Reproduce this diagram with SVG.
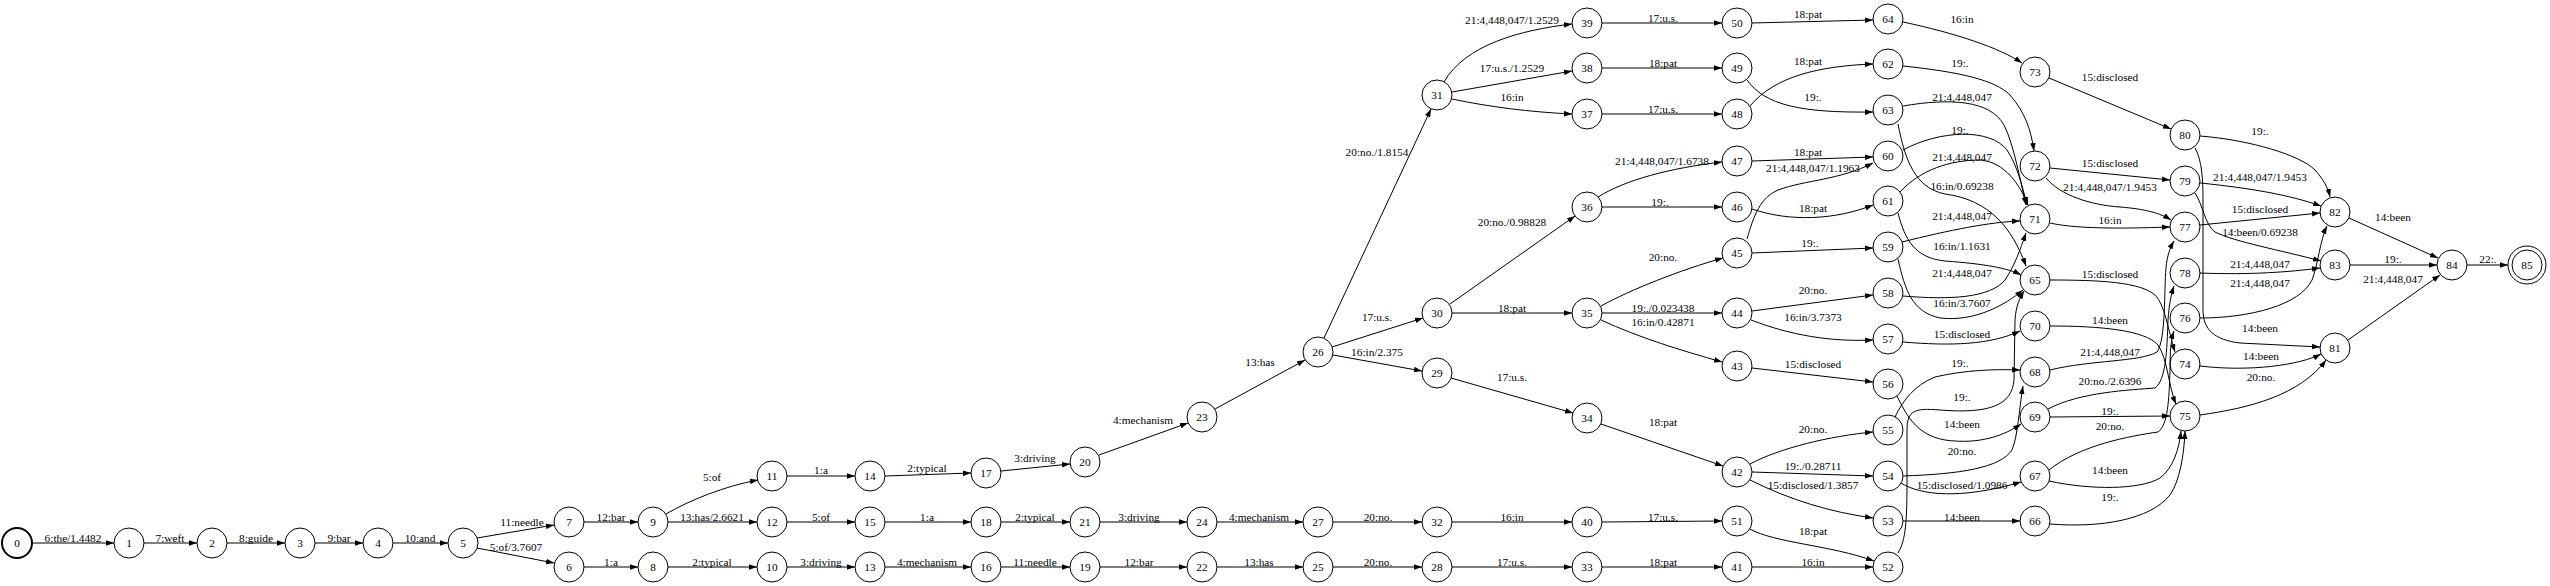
<svg xmlns="http://www.w3.org/2000/svg" width="2550" height="586" viewBox="0 0 2550 586">
<defs>
<marker id="ah" viewBox="0 0 10 7" refX="10" refY="3.5" markerWidth="8" markerHeight="6" markerUnits="userSpaceOnUse" orient="auto"><path d="M0,0L10,3.5L0,7z" fill="#000"/></marker>
<style>
.node circle{fill:none;stroke:#000;stroke-width:1}
.edge path{fill:none;stroke:#000;stroke-width:1;marker-end:url(#ah)}
text{font-family:"Liberation Serif","Times New Roman",serif;font-size:11.3px;text-anchor:middle;fill:#000}
</style>
</defs>
<rect width="2550" height="586" fill="#fff"/>
<g id="edges">
<g class="edge"><path d="M32,543 L114,543"/><text x="73" y="542">6:the/1.4482</text></g>
<g class="edge"><path d="M144,543 L197,543"/><text x="170" y="542">7:weft</text></g>
<g class="edge"><path d="M227,543 L285,543"/><text x="256" y="542">8:guide</text></g>
<g class="edge"><path d="M315,543 L363,543"/><text x="339" y="542">9:bar</text></g>
<g class="edge"><path d="M393,543 L448,543"/><text x="420" y="542">10:and</text></g>
<g class="edge"><path d="M477,538 L554,525"/><text x="522" y="526">11:needle</text></g>
<g class="edge"><path d="M477,548 L554,563"/><text x="516" y="551">5:of/3.7607</text></g>
<g class="edge"><path d="M584,522 L638,522"/><text x="611" y="521">12:bar</text></g>
<g class="edge"><path d="M584,567 L638,567"/><text x="611" y="566">1:a</text></g>
<g class="edge"><path d="M666,514 C690,500 725,486 758,480"/><text x="712" y="481">5:of</text></g>
<g class="edge"><path d="M668,522 L757,522"/><text x="712" y="521">13:has/2.6621</text></g>
<g class="edge"><path d="M668,567 L757,567"/><text x="712" y="566">2:typical</text></g>
<g class="edge"><path d="M787,476 L855,476"/><text x="821" y="474">1:a</text></g>
<g class="edge"><path d="M787,522 L855,522"/><text x="821" y="521">5:of</text></g>
<g class="edge"><path d="M787,567 L855,567"/><text x="821" y="566">3:driving</text></g>
<g class="edge"><path d="M885,476 L971,473"/><text x="927" y="472">2:typical</text></g>
<g class="edge"><path d="M885,522 L971,522"/><text x="927" y="521">1:a</text></g>
<g class="edge"><path d="M885,567 L971,567"/><text x="927" y="566">4:mechanism</text></g>
<g class="edge"><path d="M1001,471 L1070,464"/><text x="1035" y="462">3:driving</text></g>
<g class="edge"><path d="M1001,522 L1070,522"/><text x="1035" y="521">2:typical</text></g>
<g class="edge"><path d="M1001,567 L1070,567"/><text x="1035" y="566">11:needle</text></g>
<g class="edge"><path d="M1099,455 L1188,423"/><text x="1143" y="424">4:mechanism</text></g>
<g class="edge"><path d="M1100,522 L1187,522"/><text x="1139" y="521">3:driving</text></g>
<g class="edge"><path d="M1100,567 L1187,567"/><text x="1139" y="566">12:bar</text></g>
<g class="edge"><path d="M1215,409 L1305,360"/><text x="1260" y="366">13:has</text></g>
<g class="edge"><path d="M1217,522 L1303,522"/><text x="1259" y="521">4:mechanism</text></g>
<g class="edge"><path d="M1217,567 L1303,567"/><text x="1259" y="566">13:has</text></g>
<g class="edge"><path d="M1324,338 L1431,109"/><text x="1377" y="156">20:no./1.8154</text></g>
<g class="edge"><path d="M1332,347 L1423,318"/><text x="1377" y="321">17:u.s.</text></g>
<g class="edge"><path d="M1333,355 L1422,371"/><text x="1377" y="356">16:in/2.375</text></g>
<g class="edge"><path d="M1333,522 L1422,522"/><text x="1378" y="521">20:no.</text></g>
<g class="edge"><path d="M1333,567 L1422,567"/><text x="1378" y="566">20:no.</text></g>
<g class="edge"><path d="M1444,82 C1465,45 1520,30 1572,24"/><text x="1512" y="24">21:4,448,047/1.2529</text></g>
<g class="edge"><path d="M1452,92 L1572,71"/><text x="1512" y="72">17:u.s./1.2529</text></g>
<g class="edge"><path d="M1452,99 C1490,107 1530,112 1572,114"/><text x="1512" y="101">16:in</text></g>
<g class="edge"><path d="M1450,304 L1575,216"/><text x="1512" y="226">20:no./0.98828</text></g>
<g class="edge"><path d="M1452,313 L1572,313"/><text x="1512" y="312">18:pat</text></g>
<g class="edge"><path d="M1451,378 L1573,413"/><text x="1512" y="381">17:u.s.</text></g>
<g class="edge"><path d="M1452,522 L1572,522"/><text x="1512" y="521">16:in</text></g>
<g class="edge"><path d="M1452,567 L1572,567"/><text x="1512" y="566">17:u.s.</text></g>
<g class="edge"><path d="M1602,23 L1722,23"/><text x="1663" y="22">17:u.s.</text></g>
<g class="edge"><path d="M1602,68 L1722,68"/><text x="1663" y="67">18:pat</text></g>
<g class="edge"><path d="M1602,114 L1722,114"/><text x="1663" y="113">17:u.s.</text></g>
<g class="edge"><path d="M1598,197 C1625,180 1670,168 1722,162"/><text x="1662" y="165">21:4,448,047/1.6738</text></g>
<g class="edge"><path d="M1602,207 L1722,207"/><text x="1660" y="206">19:.</text></g>
<g class="edge"><path d="M1601,306 C1630,290 1680,270 1723,258"/><text x="1663" y="261">20:no.</text></g>
<g class="edge"><path d="M1602,313 L1722,313"/><text x="1663" y="312">19:./0.023438</text></g>
<g class="edge"><path d="M1601,320 C1640,338 1680,350 1722,362"/><text x="1663" y="326">16:in/0.42871</text></g>
<g class="edge"><path d="M1601,424 L1723,466"/><text x="1663" y="426">18:pat</text></g>
<g class="edge"><path d="M1602,522 L1722,521"/><text x="1663" y="521">17:u.s.</text></g>
<g class="edge"><path d="M1602,567 L1722,567"/><text x="1663" y="566">18:pat</text></g>
<g class="edge"><path d="M1752,23 L1873,20"/><text x="1808" y="18">18:pat</text></g>
<g class="edge"><path d="M1747,80 C1765,105 1800,113 1873,112"/><text x="1813" y="101">19:.</text></g>
<g class="edge"><path d="M1750,106 C1775,76 1820,66 1873,64"/><text x="1808" y="65">18:pat</text></g>
<g class="edge"><path d="M1752,161 L1873,157"/><text x="1808" y="156">18:pat</text></g>
<g class="edge"><path d="M1747,239 C1754,215 1760,198 1778,190 C1805,180 1840,180 1873,163"/><text x="1813" y="172">21:4,448,047/1.1963</text></g>
<g class="edge"><path d="M1752,209 C1790,222 1835,220 1873,205"/><text x="1813" y="212">18:pat</text></g>
<g class="edge"><path d="M1752,253 L1873,248"/><text x="1810" y="247">19:.</text></g>
<g class="edge"><path d="M1752,311 L1873,295"/><text x="1813" y="294">20:no.</text></g>
<g class="edge"><path d="M1751,320 C1790,335 1830,342 1873,340"/><text x="1813" y="321">16:in/3.7373</text></g>
<g class="edge"><path d="M1752,368 L1873,382"/><text x="1813" y="368">15:disclosed</text></g>
<g class="edge"><path d="M1750,464 C1780,448 1830,436 1873,432"/><text x="1813" y="433">20:no.</text></g>
<g class="edge"><path d="M1752,472 L1873,476"/><text x="1813" y="470">19:./0.28711</text></g>
<g class="edge"><path d="M1750,480 C1790,500 1830,512 1873,518"/><text x="1813" y="489">15:disclosed/1.3857</text></g>
<g class="edge"><path d="M1750,529 C1775,543 1830,545 1874,561"/><text x="1813" y="535">18:pat</text></g>
<g class="edge"><path d="M1752,567 L1873,567"/><text x="1813" y="566">16:in</text></g>
<g class="edge"><path d="M1903,22 C1955,33 2000,48 2022,63"/><text x="1962" y="23">16:in</text></g>
<g class="edge"><path d="M1903,66 C1960,72 1995,80 2010,95 C2025,112 2031,130 2034,151"/><text x="1960" y="67">19:.</text></g>
<g class="edge"><path d="M1903,106 C1950,98 1990,100 2004,125 C2014,145 2020,180 2026,205"/><text x="1962" y="101">21:4,448,047</text></g>
<g class="edge"><path d="M1903,150 C1940,130 1990,128 2007,150 C2017,165 2022,185 2027,205"/><text x="1960" y="134">19:.</text></g>
<g class="edge"><path d="M1900,192 C1920,170 1950,160 1980,160 C2005,162 2020,185 2028,205"/><text x="1962" y="161">21:4,448,047</text></g>
<g class="edge"><path d="M1898,124 C1905,160 1915,188 1945,194 C1990,200 2012,228 2026,266"/><text x="1962" y="190">16:in/0.69238</text></g>
<g class="edge"><path d="M1902,242 C1950,230 1990,222 2020,221"/><text x="1962" y="220">21:4,448,047</text></g>
<g class="edge"><path d="M1898,213 C1905,240 1915,258 1945,261 C1985,264 2008,268 2021,275"/><text x="1962" y="250">16:in/1.1631</text></g>
<g class="edge"><path d="M1903,296 C1950,300 1990,298 2005,280 C2015,265 2020,250 2026,233"/><text x="1962" y="277">21:4,448,047</text></g>
<g class="edge"><path d="M1898,259 C1905,290 1912,312 1940,318 C1975,322 2005,305 2023,290"/><text x="1962" y="307">16:in/3.7607</text></g>
<g class="edge"><path d="M1903,342 C1950,346 1990,345 2020,331"/><text x="1962" y="338">15:disclosed</text></g>
<g class="edge"><path d="M1895,417 C1903,400 1915,385 1935,377 C1965,370 1995,369 2020,370"/><text x="1960" y="367">19:.</text></g>
<g class="edge"><path d="M1898,553 C1906,540 1907,520 1907,480 L1907,430 C1907,410 1915,408 1940,410 C1990,414 2012,405 2014,380 L2015,320 C2016,305 2020,298 2024,291"/><text x="1962" y="401">19:.</text></g>
<g class="edge"><path d="M1897,396 C1905,412 1915,435 1945,440 C1980,445 2005,435 2021,424"/><text x="1962" y="428">14:been</text></g>
<g class="edge"><path d="M1903,476 C1960,474 2000,468 2012,450 C2018,435 2019,410 2023,386"/><text x="1962" y="455">20:no.</text></g>
<g class="edge"><path d="M1901,483 C1920,495 1960,500 2021,482"/><text x="1962" y="489">15:disclosed/1.0986</text></g>
<g class="edge"><path d="M1903,521 L2020,521"/><text x="1962" y="521">14:been</text></g>
<g class="edge"><path d="M2049,78 L2171,129"/><text x="2110" y="81">15:disclosed</text></g>
<g class="edge"><path d="M2050,168 L2170,180"/><text x="2110" y="167">15:disclosed</text></g>
<g class="edge"><path d="M2046,178 C2060,195 2090,205 2120,207 C2145,209 2160,213 2171,220"/><text x="2110" y="191">21:4,448,047/1.9453</text></g>
<g class="edge"><path d="M2050,223 C2080,230 2140,228 2170,227"/><text x="2110" y="224">16:in</text></g>
<g class="edge"><path d="M2050,280 C2100,280 2140,282 2155,295 C2165,305 2168,330 2175,352"/><text x="2110" y="278">15:disclosed</text></g>
<g class="edge"><path d="M2050,326 C2100,326 2145,330 2158,345 C2168,360 2168,385 2176,404"/><text x="2110" y="324">14:been</text></g>
<g class="edge"><path d="M2050,370 C2090,360 2140,362 2157,352 C2166,340 2164,290 2166,268 C2167,256 2170,248 2174,241"/><text x="2110" y="356">21:4,448,047</text></g>
<g class="edge"><path d="M2048,409 C2080,392 2130,390 2155,388 C2166,380 2167,350 2168,320 C2169,305 2171,295 2174,286"/><text x="2110" y="385">20:no./2.6396</text></g>
<g class="edge"><path d="M2050,417 L2170,416"/><text x="2110" y="415">19:.</text></g>
<g class="edge"><path d="M2049,470 C2080,445 2130,436 2158,432 C2168,425 2169,400 2170,370 C2170,350 2171,340 2174,331"/><text x="2110" y="430">20:no.</text></g>
<g class="edge"><path d="M2049,481 C2090,490 2140,490 2160,478 C2173,468 2179,450 2181,431"/><text x="2110" y="474">14:been</text></g>
<g class="edge"><path d="M2050,524 C2100,528 2150,520 2170,495 C2180,480 2184,455 2185,431"/><text x="2110" y="501">19:.</text></g>
<g class="edge"><path d="M2200,136 C2250,140 2300,155 2315,170 C2324,180 2328,188 2330,197"/><text x="2260" y="135">19:.</text></g>
<g class="edge"><path d="M2200,183 C2250,188 2290,195 2321,206"/><text x="2260" y="181">21:4,448,047/1.9453</text></g>
<g class="edge"><path d="M2200,225 L2320,213"/><text x="2260" y="213">15:disclosed</text></g>
<g class="edge"><path d="M2195,193 C2203,205 2205,225 2215,232 C2235,242 2280,250 2321,261"/><text x="2260" y="236">14:been/0.69238</text></g>
<g class="edge"><path d="M2195,148 C2202,160 2203,180 2203,200 L2203,310 C2203,330 2215,340 2240,343 L2320,347"/><text x="2260" y="332">14:been</text></g>
<g class="edge"><path d="M2200,273 C2250,275 2290,272 2320,268"/><text x="2260" y="268">21:4,448,047</text></g>
<g class="edge"><path d="M2200,318 C2250,318 2300,305 2312,280 C2318,265 2320,240 2327,226"/><text x="2260" y="287">21:4,448,047</text></g>
<g class="edge"><path d="M2200,366 C2250,372 2300,365 2321,354"/><text x="2261" y="360">14:been</text></g>
<g class="edge"><path d="M2200,415 C2250,408 2300,395 2326,360"/><text x="2261" y="381">20:no.</text></g>
<g class="edge"><path d="M2349,218 L2438,258"/><text x="2393" y="221">14:been</text></g>
<g class="edge"><path d="M2350,265 L2437,265"/><text x="2393" y="263">19:.</text></g>
<g class="edge"><path d="M2348,340 L2440,275"/><text x="2393" y="283">21:4,448,047</text></g>
<g class="edge"><path d="M2467,265 L2508,265"/><text x="2488" y="263">22:.</text></g>
</g>
<g id="n0" class="node"><circle cx="17" cy="543" r="15" style="stroke-width:2"/><text x="17" y="547">0</text></g>
<g id="n1" class="node"><circle cx="129" cy="543" r="15"/><text x="129" y="547">1</text></g>
<g id="n2" class="node"><circle cx="212" cy="543" r="15"/><text x="212" y="547">2</text></g>
<g id="n3" class="node"><circle cx="300" cy="543" r="15"/><text x="300" y="547">3</text></g>
<g id="n4" class="node"><circle cx="378" cy="543" r="15"/><text x="378" y="547">4</text></g>
<g id="n5" class="node"><circle cx="463" cy="543" r="15"/><text x="463" y="547">5</text></g>
<g id="n6" class="node"><circle cx="569" cy="567" r="15"/><text x="569" y="571">6</text></g>
<g id="n7" class="node"><circle cx="569" cy="522" r="15"/><text x="569" y="526">7</text></g>
<g id="n8" class="node"><circle cx="653" cy="567" r="15"/><text x="653" y="571">8</text></g>
<g id="n9" class="node"><circle cx="653" cy="522" r="15"/><text x="653" y="526">9</text></g>
<g id="n10" class="node"><circle cx="772" cy="567" r="15"/><text x="772" y="571">10</text></g>
<g id="n11" class="node"><circle cx="772" cy="476" r="15"/><text x="772" y="480">11</text></g>
<g id="n12" class="node"><circle cx="772" cy="522" r="15"/><text x="772" y="526">12</text></g>
<g id="n13" class="node"><circle cx="870" cy="567" r="15"/><text x="870" y="571">13</text></g>
<g id="n14" class="node"><circle cx="870" cy="476" r="15"/><text x="870" y="480">14</text></g>
<g id="n15" class="node"><circle cx="870" cy="522" r="15"/><text x="870" y="526">15</text></g>
<g id="n16" class="node"><circle cx="986" cy="567" r="15"/><text x="986" y="571">16</text></g>
<g id="n17" class="node"><circle cx="986" cy="473" r="15"/><text x="986" y="477">17</text></g>
<g id="n18" class="node"><circle cx="986" cy="522" r="15"/><text x="986" y="526">18</text></g>
<g id="n19" class="node"><circle cx="1085" cy="567" r="15"/><text x="1085" y="571">19</text></g>
<g id="n20" class="node"><circle cx="1085" cy="462" r="15"/><text x="1085" y="466">20</text></g>
<g id="n21" class="node"><circle cx="1085" cy="522" r="15"/><text x="1085" y="526">21</text></g>
<g id="n22" class="node"><circle cx="1202" cy="567" r="15"/><text x="1202" y="571">22</text></g>
<g id="n23" class="node"><circle cx="1202" cy="417" r="15"/><text x="1202" y="421">23</text></g>
<g id="n24" class="node"><circle cx="1202" cy="522" r="15"/><text x="1202" y="526">24</text></g>
<g id="n25" class="node"><circle cx="1318" cy="567" r="15"/><text x="1318" y="571">25</text></g>
<g id="n26" class="node"><circle cx="1318" cy="352" r="15"/><text x="1318" y="356">26</text></g>
<g id="n27" class="node"><circle cx="1318" cy="522" r="15"/><text x="1318" y="526">27</text></g>
<g id="n28" class="node"><circle cx="1437" cy="567" r="15"/><text x="1437" y="571">28</text></g>
<g id="n29" class="node"><circle cx="1437" cy="373" r="15"/><text x="1437" y="377">29</text></g>
<g id="n30" class="node"><circle cx="1437" cy="313" r="15"/><text x="1437" y="317">30</text></g>
<g id="n31" class="node"><circle cx="1437" cy="95" r="15"/><text x="1437" y="99">31</text></g>
<g id="n32" class="node"><circle cx="1437" cy="522" r="15"/><text x="1437" y="526">32</text></g>
<g id="n33" class="node"><circle cx="1587" cy="567" r="15"/><text x="1587" y="571">33</text></g>
<g id="n34" class="node"><circle cx="1587" cy="418" r="15"/><text x="1587" y="422">34</text></g>
<g id="n35" class="node"><circle cx="1587" cy="313" r="15"/><text x="1587" y="317">35</text></g>
<g id="n36" class="node"><circle cx="1587" cy="207" r="15"/><text x="1587" y="211">36</text></g>
<g id="n37" class="node"><circle cx="1587" cy="114" r="15"/><text x="1587" y="118">37</text></g>
<g id="n38" class="node"><circle cx="1587" cy="68" r="15"/><text x="1587" y="72">38</text></g>
<g id="n39" class="node"><circle cx="1587" cy="23" r="15"/><text x="1587" y="27">39</text></g>
<g id="n40" class="node"><circle cx="1587" cy="522" r="15"/><text x="1587" y="526">40</text></g>
<g id="n41" class="node"><circle cx="1737" cy="567" r="15"/><text x="1737" y="571">41</text></g>
<g id="n42" class="node"><circle cx="1737" cy="472" r="15"/><text x="1737" y="476">42</text></g>
<g id="n43" class="node"><circle cx="1737" cy="366" r="15"/><text x="1737" y="370">43</text></g>
<g id="n44" class="node"><circle cx="1737" cy="313" r="15"/><text x="1737" y="317">44</text></g>
<g id="n45" class="node"><circle cx="1737" cy="253" r="15"/><text x="1737" y="257">45</text></g>
<g id="n46" class="node"><circle cx="1737" cy="207" r="15"/><text x="1737" y="211">46</text></g>
<g id="n47" class="node"><circle cx="1737" cy="161" r="15"/><text x="1737" y="165">47</text></g>
<g id="n48" class="node"><circle cx="1737" cy="114" r="15"/><text x="1737" y="118">48</text></g>
<g id="n49" class="node"><circle cx="1737" cy="68" r="15"/><text x="1737" y="72">49</text></g>
<g id="n50" class="node"><circle cx="1737" cy="23" r="15"/><text x="1737" y="27">50</text></g>
<g id="n51" class="node"><circle cx="1737" cy="521" r="15"/><text x="1737" y="525">51</text></g>
<g id="n52" class="node"><circle cx="1888" cy="567" r="15"/><text x="1888" y="571">52</text></g>
<g id="n53" class="node"><circle cx="1888" cy="521" r="15"/><text x="1888" y="525">53</text></g>
<g id="n54" class="node"><circle cx="1888" cy="476" r="15"/><text x="1888" y="480">54</text></g>
<g id="n55" class="node"><circle cx="1888" cy="430" r="15"/><text x="1888" y="434">55</text></g>
<g id="n56" class="node"><circle cx="1888" cy="384" r="15"/><text x="1888" y="388">56</text></g>
<g id="n57" class="node"><circle cx="1888" cy="339" r="15"/><text x="1888" y="343">57</text></g>
<g id="n58" class="node"><circle cx="1888" cy="293" r="15"/><text x="1888" y="297">58</text></g>
<g id="n59" class="node"><circle cx="1888" cy="247" r="15"/><text x="1888" y="251">59</text></g>
<g id="n60" class="node"><circle cx="1888" cy="156" r="15"/><text x="1888" y="160">60</text></g>
<g id="n61" class="node"><circle cx="1888" cy="201" r="15"/><text x="1888" y="205">61</text></g>
<g id="n62" class="node"><circle cx="1888" cy="64" r="15"/><text x="1888" y="68">62</text></g>
<g id="n63" class="node"><circle cx="1888" cy="110" r="15"/><text x="1888" y="114">63</text></g>
<g id="n64" class="node"><circle cx="1888" cy="19" r="15"/><text x="1888" y="23">64</text></g>
<g id="n65" class="node"><circle cx="2035" cy="280" r="15"/><text x="2035" y="284">65</text></g>
<g id="n66" class="node"><circle cx="2035" cy="521" r="15"/><text x="2035" y="525">66</text></g>
<g id="n67" class="node"><circle cx="2035" cy="476" r="15"/><text x="2035" y="480">67</text></g>
<g id="n68" class="node"><circle cx="2035" cy="372" r="15"/><text x="2035" y="376">68</text></g>
<g id="n69" class="node"><circle cx="2035" cy="417" r="15"/><text x="2035" y="421">69</text></g>
<g id="n70" class="node"><circle cx="2035" cy="326" r="15"/><text x="2035" y="330">70</text></g>
<g id="n71" class="node"><circle cx="2035" cy="219" r="15"/><text x="2035" y="223">71</text></g>
<g id="n72" class="node"><circle cx="2035" cy="166" r="15"/><text x="2035" y="170">72</text></g>
<g id="n73" class="node"><circle cx="2035" cy="72" r="15"/><text x="2035" y="76">73</text></g>
<g id="n74" class="node"><circle cx="2185" cy="364" r="15"/><text x="2185" y="368">74</text></g>
<g id="n75" class="node"><circle cx="2185" cy="416" r="15"/><text x="2185" y="420">75</text></g>
<g id="n76" class="node"><circle cx="2185" cy="318" r="15"/><text x="2185" y="322">76</text></g>
<g id="n77" class="node"><circle cx="2185" cy="227" r="15"/><text x="2185" y="231">77</text></g>
<g id="n78" class="node"><circle cx="2185" cy="273" r="15"/><text x="2185" y="277">78</text></g>
<g id="n79" class="node"><circle cx="2185" cy="181" r="15"/><text x="2185" y="185">79</text></g>
<g id="n80" class="node"><circle cx="2185" cy="135" r="15"/><text x="2185" y="139">80</text></g>
<g id="n81" class="node"><circle cx="2335" cy="348" r="15"/><text x="2335" y="352">81</text></g>
<g id="n82" class="node"><circle cx="2335" cy="212" r="15"/><text x="2335" y="216">82</text></g>
<g id="n83" class="node"><circle cx="2335" cy="265" r="15"/><text x="2335" y="269">83</text></g>
<g id="n84" class="node"><circle cx="2452" cy="265" r="15"/><text x="2452" y="269">84</text></g>
<g id="n85" class="node"><circle cx="2527" cy="265" r="19"/><circle cx="2527" cy="265" r="15"/><text x="2527" y="269">85</text></g>
</svg>
